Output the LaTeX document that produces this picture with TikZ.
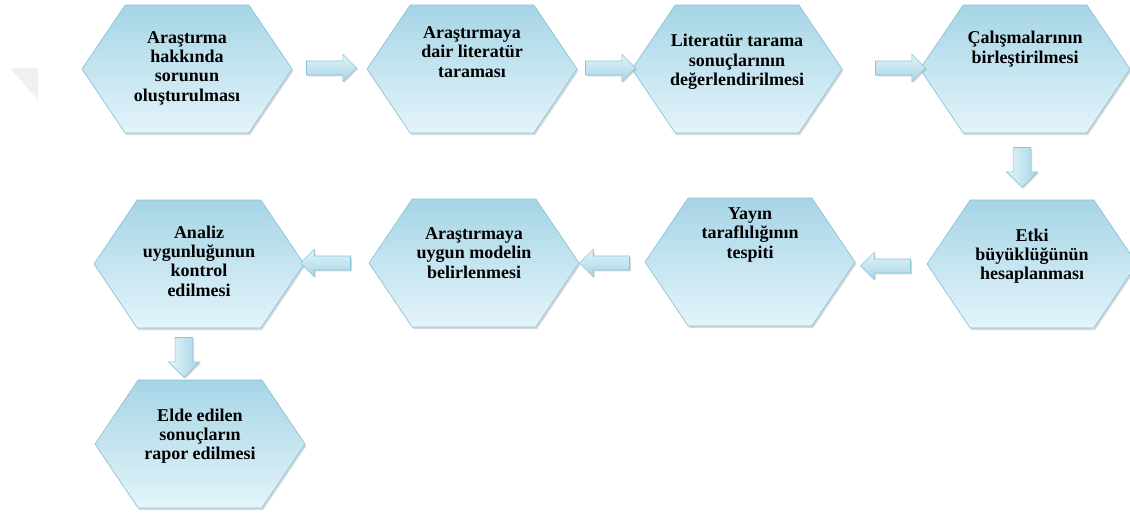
\documentclass[tikz,border=0pt]{standalone}
\usepackage{fontspec}
\setmainfont{Liberation Serif}
\usetikzlibrary{shapes.symbols,shapes.arrows,shadows,calc}

\definecolor{hexdark}{RGB}{166,213,230}
\definecolor{hexlight}{RGB}{228,244,250}
\definecolor{hexedge}{RGB}{138,195,216}

\tikzset{
  stage/.style={signal, signal to=west and east, signal pointer angle=112,
    minimum width=157.5pt, minimum height=96pt, inner sep=0pt,
    draw=hexedge, line width=0.5pt, top color=hexdark, bottom color=hexlight,
    drop shadow={shadow xshift=1pt, shadow yshift=-1.5pt, opacity=0.3}},
  stagetext/.style={align=center, inner sep=0pt,
    font=\bfseries\fontsize{13.5}{14.5}\selectfont},
  flow/.style={single arrow, single arrow head extend=5pt,
    minimum height=37.5pt, inner xsep=0pt, inner ysep=5pt,
    draw=hexedge, line width=0.5pt, top color=hexlight, bottom color=hexdark,
    drop shadow={shadow xshift=1pt, shadow yshift=-1pt, opacity=0.3}},
  flowdown/.style={flow, shape border rotate=270, minimum height=30pt,
    inner xsep=6.4pt, inner ysep=0pt, single arrow head extend=5pt,
    left color=hexlight, right color=hexdark},
  flowleft/.style={flow, shape border rotate=180}
}

\begin{document}
\begin{tikzpicture}[x=0.75pt, y=-0.75pt]
	\useasboundingbox (0,0) rectangle (1130,514);
	\fill[white] (0,0) rectangle (1130,514);
	\fill[black!6] (10,68) -- (38,68) -- (38,100) -- cycle;

	% first row
	\node[stage] (h1) at (187,69) {};
	\node[stage] (h2) at (472,69) {};
	\node[stage] (h3) at (737,69) {};
	\node[stage] (h4) at (1025,69) {};
	\node[stagetext] (t1) at ($(h1)+(0,-1)$) {Araştırma\\hakkında\\sorunun\\oluşturulması};
	\node[stagetext] (t2) at ($(h2)+(0,-17)$) {Araştırmaya\\dair literatür\\taraması};
	\node[stagetext] (t3) at ($(h3)+(0,-7)$) {Literatür tarama\\sonuçlarının\\değerlendirilmesi};
	\node[stagetext] (t4) at ($(h4)+(0,-20)$) {Çalışmalarının\\birleştirilmesi};

	% second row
	\node[stage] (h5) at (1032,264) {};
	\node[stage] (h6) at (750,262) {};
	\node[stage] (h7) at (474,263) {};
	\node[stage] (h8) at (199,264) {};
	\node[stagetext] (t5) at ($(h5)+(0,-8)$) {Etki\\büyüklüğünün\\hesaplanması};
	\node[stagetext] (t6) at ($(h6)+(0,-27)$) {Yayın\\taraflılığının\\tespiti};
	\node[stagetext] (t7) at ($(h7)+(0,-10)$) {Araştırmaya\\uygun modelin\\belirlenmesi};
	\node[stagetext] (t8) at ($(h8)+(0,-3)$) {Analiz\\uygunluğunun\\kontrol\\edilmesi};

	% last
	\node[stage] (h9) at (200,444) {};
	\node[stagetext] (t9) at ($(h9)+(0,-8)$) {Elde edilen\\sonuçların\\rapor edilmesi};

	% arrows
	\node[flow] (a12) at (328,68) {};
	\node[flow] (a23) at (607,68) {};
	\node[flow] (a34) at (897,68) {};
	\node[flowdown] (a45) at (1022,163) {};
	\node[flowleft] (a56) at (889,266) {};
	\node[flowleft] (a67) at (608,263) {};
	\node[flowleft] (a78) at (329,263) {};
	\node[flowdown] (a89) at (184,353) {};
\end{tikzpicture}
\end{document}
